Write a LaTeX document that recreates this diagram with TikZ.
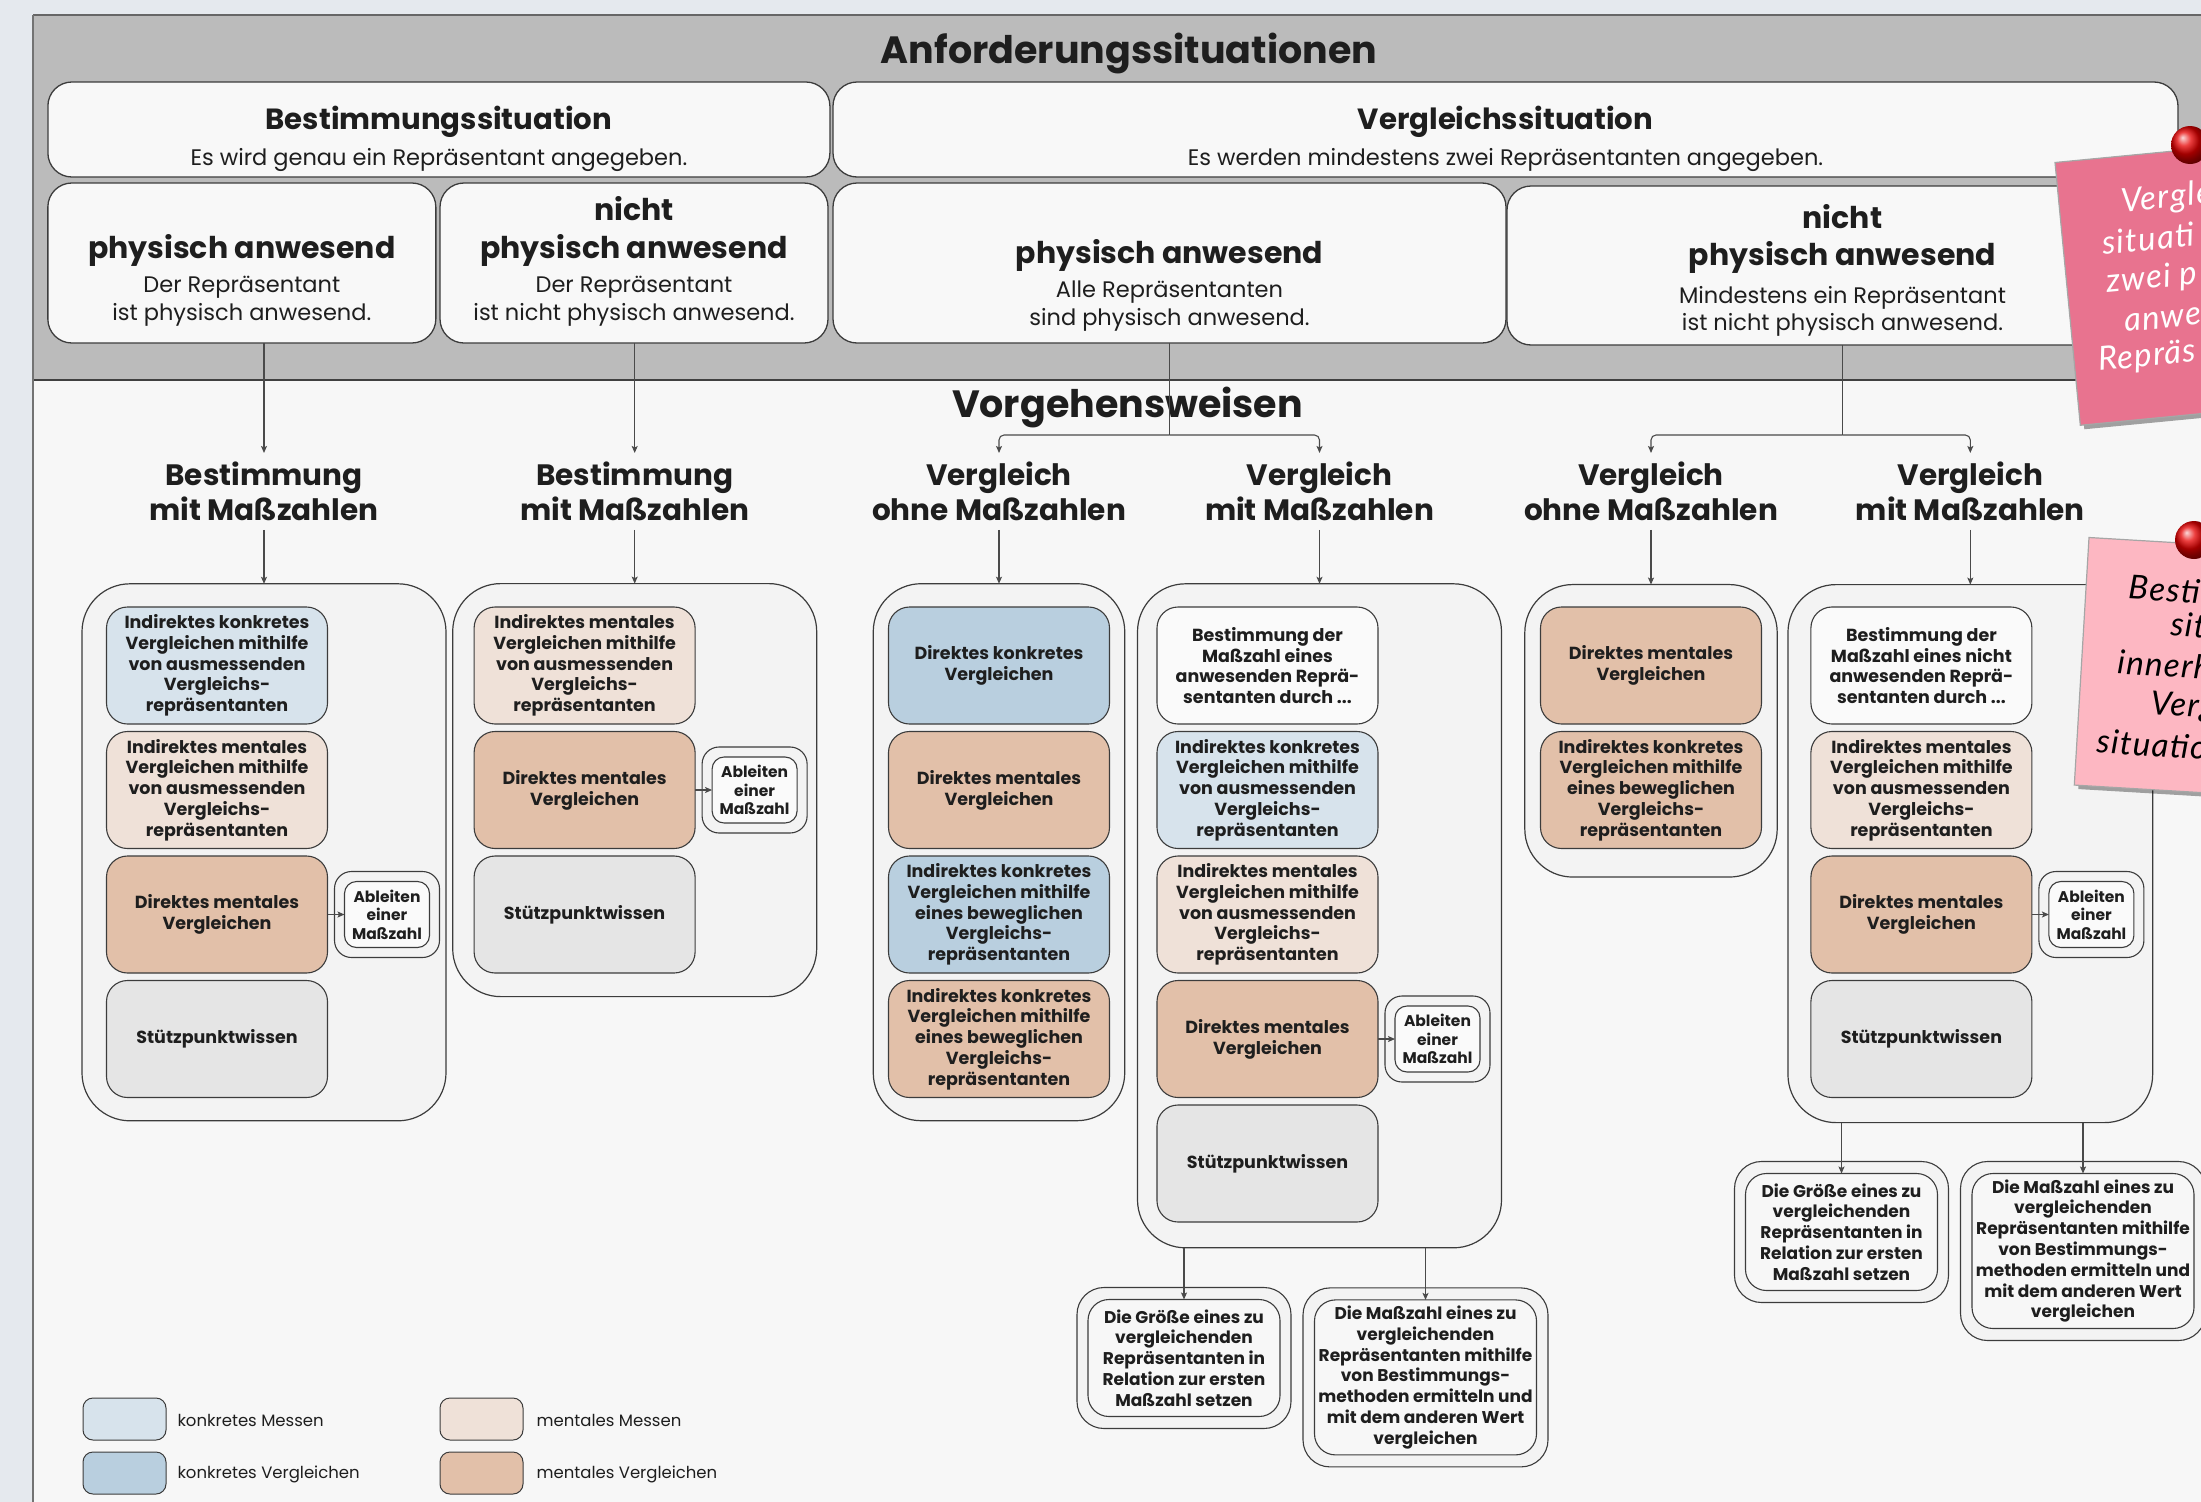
\documentclass[tikz,border=0pt]{standalone}
\usepackage{fontspec}
\setmainfont{Poppins}
\newfontfamily\dgNoteFont{Lato}[LetterSpace=4]
\usetikzlibrary{arrows.meta,shadows,calc}
\definecolor{outerbg}{HTML}{E5E9EE}
\definecolor{panelbg}{HTML}{F7F7F7}
\definecolor{bandbg}{HTML}{BBBBBB}
\definecolor{rowfill}{HTML}{F8F8F8}
\definecolor{contfill}{HTML}{F3F3F3}
\definecolor{kmcol}{HTML}{D7E3EC}
\definecolor{kvcol}{HTML}{B9CFDF}
\definecolor{mmcol}{HTML}{EFE1D8}
\definecolor{mvcol}{HTML}{E2C0A9}
\definecolor{swcol}{HTML}{E5E5E5}
\definecolor{wbcol}{HTML}{FAFAFA}
\definecolor{bordercol}{HTML}{3C3C3C}
\definecolor{linecol}{HTML}{4A4A4A}
\definecolor{notedark}{HTML}{E8738F}
\definecolor{notelight}{HTML}{FDB7C2}
\definecolor{txtcol}{HTML}{1E1E1E}
\newcommand\dgTitle{\bfseries\fontsize{38}{44}\selectfont}
\newcommand\dgRowTa{\bfseries\fontsize{29.2}{35}\selectfont}
\newcommand\dgRowT{\bfseries\fontsize{30}{36}\selectfont}
\newcommand\dgRowS{\fontsize{22.5}{27.5}\selectfont}
\newcommand\dgLab{\bfseries\fontsize{29.5}{35}\selectfont}
\newcommand\dgBox{\bfseries\fontsize{17.5}{20.8}\selectfont}
\newcommand\dgDbl{\bfseries\fontsize{17}{20.8}\selectfont}
\newcommand\dgAbl{\bfseries\fontsize{15.5}{18.6}\selectfont}
\newcommand\dgLeg{\fontsize{16.5}{20}\selectfont}
\newcommand\dgNote{\dgNoteFont\itshape\fontsize{33}{39}\selectfont}
\begin{document}
\begin{tikzpicture}[x=1pt,y=-1pt,
  every node/.style={inner sep=0pt, outer sep=0pt, text=txtcol},
  rowbox/.style 2 args={draw=bordercol, line width=1.3pt, fill=rowfill, rounded corners=24pt, minimum width=#1, minimum height=#2},
  cont/.style 2 args={draw=bordercol, line width=1.2pt, fill=contfill, rounded corners=48pt, minimum width=#1, minimum height=#2},
  ib/.style={draw=bordercol, line width=1.1pt, rounded corners=21pt, minimum width=221pt, minimum height=117pt, align=center, font=\dgBox},
  km/.style={ib, fill=kmcol},
  kv/.style={ib, fill=kvcol},
  mm/.style={ib, fill=mmcol},
  mv/.style={ib, fill=mvcol},
  sw/.style={ib, fill=swcol},
  wb/.style={ib, fill=wbcol},
  ablo/.style={draw=bordercol, line width=1.1pt, fill=contfill, rounded corners=17pt, minimum width=105pt, minimum height=86pt},
  abli/.style={draw=bordercol, line width=1.1pt, fill=wbcol, rounded corners=12pt, minimum width=85pt, minimum height=66pt, align=center, font=\dgAbl},
  dbo/.style 2 args={draw=bordercol, line width=1.1pt, fill=contfill, rounded corners=27pt, minimum width=#1, minimum height=#2},
  dbi/.style 2 args={draw=bordercol, line width=1.1pt, fill=panelbg, rounded corners=21pt, minimum width=#1, minimum height=#2, align=center, font=\dgDbl},
  conn/.style={draw=linecol, line width=1.1pt},
  arr/.style={conn, -{Stealth[length=7pt,width=6pt,inset=1.5pt]}},
  lab/.style={align=center, font=\dgLab, inner ysep=9pt, anchor=base},
  rtitlea/.style={font=\dgRowTa, anchor=base},
  rtitle/.style={font=\dgRowT, anchor=base},
  rsub/.style={font=\dgRowS, anchor=base},
  leg/.style={draw=bordercol, line width=1pt, rounded corners=10pt, minimum width=83pt, minimum height=42pt},
  legt/.style={font=\dgLeg, anchor=west},
  notebox/.style={draw=black!35, line width=1.2pt, drop shadow={shadow xshift=4pt, shadow yshift=-4pt, opacity=0.35, fill=black}},
  notetxt/.style={font=\dgNote, anchor=base west}
]
\useasboundingbox (0,0) rectangle (2201,1502);
\clip (0,0) rectangle (2201,1502);
% ---------- backgrounds ----------
\fill[outerbg] (0,0) rectangle (2201,1502);
\fill[panelbg] (33,15) rectangle (2240,1540);
\fill[bandbg] (33,15) rectangle (2240,380);
\draw[draw=black!60, line width=1.3pt] (33,15) -- (2240,15);
\draw[draw=black!75, line width=2.2pt] (33,380) -- (2240,380);
\draw[draw=black!55, line width=1.5pt] (33,15) -- (33,1540);
% ---------- titles ----------
\node[font=\dgTitle, anchor=base] (title) at (1129,63.3) {Anforderungssituationen};
\node[font=\dgTitle, anchor=base] (vtitle) at (1127.5,417.3) {Vorgehensweisen};
% ---------- row 1 ----------
\node[rowbox={782pt}{95pt}] (bsit) at (438.9,129.5) {};
\node[rtitlea] (bsitT) at (438.9,129.3) {Bestimmungssituation};
\node[rsub] (bsitS) at (438.9,165) {Es wird genau ein Repräsentant angegeben.};
\node[rowbox={1345pt}{95pt}] (vsit) at (1505.5,129.5) {};
\node[rtitlea] (vsitT) at (1505.5,129.3) {Vergleichssituation};
\node[rsub] (vsitS) at (1505.5,165) {Es werden mindestens zwei Repräsentanten angegeben.};
% ---------- row 2 ----------
\node[rowbox={388pt}{160pt}] (rA) at (241.85,263) {};
\node[rtitle] (rAT) at (241.85,258) {physisch anwesend};
\node[rsub] (rAS1) at (241.85,292.5) {Der Repräsentant};
\node[rsub] (rAS2) at (241.85,320) {ist physisch anwesend.};
\node[rowbox={388pt}{160pt}] (rB) at (634,263) {};
\node[rtitle] (rBN) at (634,220.7) {nicht};
\node[rtitle] (rBT) at (634,258) {physisch anwesend};
\node[rsub] (rBS1) at (634,292.5) {Der Repräsentant};
\node[rsub] (rBS2) at (634,320) {ist nicht physisch anwesend.};
\node[rowbox={673pt}{160pt}] (rC) at (1169.5,263) {};
\node[rtitle] (rCT) at (1169.5,263.5) {physisch anwesend};
\node[rsub] (rCS1) at (1169.5,297.7) {Alle Repräsentanten};
\node[rsub] (rCS2) at (1169.5,325) {sind physisch anwesend.};
\node[rowbox={671pt}{159pt}] (rD) at (1842.5,265.5) {};
\node[rtitle] (rDN) at (1842.5,228.3) {nicht};
\node[rtitle] (rDT) at (1842.5,265) {physisch anwesend};
\node[rsub] (rDS1) at (1842.5,303.3) {Mindestens ein Repräsentant};
\node[rsub] (rDS2) at (1842.5,330) {ist nicht physisch anwesend.};
% ---------- column labels ----------
\node[lab] (lab1) at (264,520.6) {Bestimmung\\mit Maßzahlen};
\node[lab] (lab2) at (634.7,520.6) {Bestimmung\\mit Maßzahlen};
\node[lab] (lab3) at (999,520.6) {Vergleich\\ohne Maßzahlen};
\node[lab] (lab4) at (1319.5,520.6) {Vergleich\\mit Maßzahlen};
\node[lab] (lab5) at (1651,520.6) {Vergleich\\ohne Maßzahlen};
\node[lab] (lab6) at (1970.3,520.6) {Vergleich\\mit Maßzahlen};
% ---------- connectors from situations ----------
\draw[arr] (rA.south -| lab1.north) -- (lab1.north);
\draw[arr] (rB.south -| lab2.north) -- (lab2.north);
\coordinate (brC) at (rC.south |- 0,435);
\coordinate (brD) at (rD.south |- 0,435);
\draw[conn] (rC.south) -- (brC);
\draw[arr, rounded corners=5pt] (brC) -| (lab3.north);
\draw[arr, rounded corners=5pt] (brC) -| (lab4.north);
\draw[conn] (rD.south) -- (brD);
\draw[arr, rounded corners=5pt] (brD) -| (lab5.north);
\draw[arr, rounded corners=5pt] (brD) -| (lab6.north);
% ---------- containers ----------
\node[cont={364pt}{537pt}] (c1) at (264,852.3) {};
\node[cont={364pt}{413pt}] (c2) at (634.7,790.1) {};
\node[cont={251.5pt}{537pt}] (c3) at (999,852.2) {};
\node[cont={364pt}{664pt}] (c4) at (1319.5,915.8) {};
\node[cont={252.4pt}{292.5pt}] (c5) at (1651,730.8) {};
\node[cont={364.7pt}{538pt}] (c6) at (1970.3,853.6) {};
\draw[arr] (lab1.south) -- (c1.north);
\draw[arr] (lab2.south) -- (c2.north);
\draw[arr] (lab3.south) -- (c3.north);
\draw[arr] (lab4.south) -- (c4.north);
\draw[arr] (lab5.south) -- (c5.north);
\draw[arr] (lab6.south) -- (c6.north);
% ---------- column 1 ----------
\node[km] (c1b1) at (217,665.5) {Indirektes konkretes\\Vergleichen mithilfe\\von ausmessenden\\Vergleichs-\\repräsentanten};
\node[mm] (c1b2) at (217,790) {Indirektes mentales\\Vergleichen mithilfe\\von ausmessenden\\Vergleichs-\\repräsentanten};
\node[mv] (c1b3) at (217,914.5) {Direktes mentales\\Vergleichen};
\node[sw] (c1b4) at (217,1039) {Stützpunktwissen};
\node[ablo] (c1ao) at (387,914.5) {};
\node[abli] (c1ai) at (387,914.5) {Ableiten\\einer\\Maßzahl};
\draw[arr] (c1b3.east) -- (c1ai.west);
% ---------- column 2 ----------
\node[mm] (c2b1) at (584.6,665.5) {Indirektes mentales\\Vergleichen mithilfe\\von ausmessenden\\Vergleichs-\\repräsentanten};
\node[mv] (c2b2) at (584.6,790) {Direktes mentales\\Vergleichen};
\node[sw] (c2b3) at (584.6,914.5) {Stützpunktwissen};
\node[ablo] (c2ao) at (754.6,790) {};
\node[abli] (c2ai) at (754.6,790) {Ableiten\\einer\\Maßzahl};
\draw[arr] (c2b2.east) -- (c2ai.west);
% ---------- column 3 ----------
\node[kv] (c3b1) at (999,665.5) {Direktes konkretes\\Vergleichen};
\node[mv] (c3b2) at (999,790) {Direktes mentales\\Vergleichen};
\node[kv] (c3b3) at (999,914.5) {Indirektes konkretes\\Vergleichen mithilfe\\eines beweglichen\\Vergleichs-\\repräsentanten};
\node[mv] (c3b4) at (999,1039) {Indirektes konkretes\\Vergleichen mithilfe\\eines beweglichen\\Vergleichs-\\repräsentanten};
% ---------- column 4 ----------
\node[wb] (c4b1) at (1267.5,665.5) {Bestimmung der\\Maßzahl eines\\anwesenden Reprä-\\sentanten durch ...};
\node[km] (c4b2) at (1267.5,790) {Indirektes konkretes\\Vergleichen mithilfe\\von ausmessenden\\Vergleichs-\\repräsentanten};
\node[mm] (c4b3) at (1267.5,914.5) {Indirektes mentales\\Vergleichen mithilfe\\von ausmessenden\\Vergleichs-\\repräsentanten};
\node[mv] (c4b4) at (1267.5,1039) {Direktes mentales\\Vergleichen};
\node[sw] (c4b5) at (1267.5,1163.5) {Stützpunktwissen};
\node[ablo] (c4ao) at (1437.5,1039) {};
\node[abli] (c4ai) at (1437.5,1039) {Ableiten\\einer\\Maßzahl};
\draw[arr] (c4b4.east) -- (c4ai.west);
% ---------- column 5 ----------
\node[mv] (c5b1) at (1651,665.5) {Direktes mentales\\Vergleichen};
\node[mv] (c5b2) at (1651,790) {Indirektes konkretes\\Vergleichen mithilfe\\eines beweglichen\\Vergleichs-\\repräsentanten};
% ---------- column 6 ----------
\node[wb] (c6b1) at (1921.4,665.5) {Bestimmung der\\Maßzahl eines nicht\\anwesenden Reprä-\\sentanten durch ...};
\node[mm] (c6b2) at (1921.4,790) {Indirektes mentales\\Vergleichen mithilfe\\von ausmessenden\\Vergleichs-\\repräsentanten};
\node[mv] (c6b3) at (1921.4,914.5) {Direktes mentales\\Vergleichen};
\node[sw] (c6b4) at (1921.4,1039) {Stützpunktwissen};
\node[ablo] (c6ao) at (2091.4,914.5) {};
\node[abli] (c6ai) at (2091.4,914.5) {Ableiten\\einer\\Maßzahl};
\draw[arr] (c6b3.east) -- (c6ai.west);
% ---------- bottom double boxes ----------
\node[dbo={214pt}{141pt}] (g4ao) at (1184,1358) {};
\node[dbi={192pt}{117pt}] (g4a) at (1184,1358) {Die Größe eines zu\\vergleichenden\\Repräsentanten in\\Relation zur ersten\\Maßzahl setzen};
\node[dbo={245pt}{179pt}] (g4bo) at (1425.5,1377.4) {};
\node[dbi={222pt}{155pt}] (g4b) at (1425.5,1377.4) {Die Maßzahl eines zu\\vergleichenden\\Repräsentanten mithilfe\\von Bestimmungs-\\methoden ermitteln und\\mit dem anderen Wert\\vergleichen};
\draw[arr] (c4.south -| g4a.north) -- (g4a.north);
\draw[arr] (c4.south -| g4b.north) -- (g4b.north);
\node[dbo={214pt}{141pt}] (g6ao) at (1841.5,1232) {};
\node[dbi={192pt}{117pt}] (g6a) at (1841.5,1232) {Die Größe eines zu\\vergleichenden\\Repräsentanten in\\Relation zur ersten\\Maßzahl setzen};
\node[dbo={245pt}{179pt}] (g6bo) at (2083,1251) {};
\node[dbi={222pt}{155pt}] (g6b) at (2083,1251) {Die Maßzahl eines zu\\vergleichenden\\Repräsentanten mithilfe\\von Bestimmungs-\\methoden ermitteln und\\mit dem anderen Wert\\vergleichen};
\draw[arr] (c6.south -| g6a.north) -- (g6a.north);
\draw[arr] (c6.south -| g6b.north) -- (g6b.north);
% ---------- legend ----------
\node[leg, fill=kmcol] (lg1) at (124.5,1419) {};
\node[legt] (lg1t) at (177.5,1420.7) {konkretes Messen};
\node[leg, fill=kvcol] (lg2) at (124.5,1473) {};
\node[legt] (lg2t) at (177.5,1474) {konkretes Vergleichen};
\node[leg, fill=mmcol] (lg3) at (481.5,1419) {};
\node[legt] (lg3t) at (536.6,1420.7) {mentales Messen};
\node[leg, fill=mvcol] (lg4) at (481.5,1473) {};
\node[legt] (lg4t) at (536.6,1474) {mentales Vergleichen};
% ---------- sticky notes ----------
\begin{scope}[shift={(2055,162.5)}, rotate=5.5, transform shape]
  \node[notebox, fill=notedark, anchor=north west, minimum width=300pt, minimum height=264pt] (note1) at (0,0) {};
  \node[notetxt, text=white] (n1a) at (62,55.7) {Vergle};
  \node[notetxt, text=white] (n1b) at (39,96.3) {situati};
  \node[notetxt, text=white] (n1c) at (39.3,134.4) {zwei p};
  \node[notetxt, text=white] (n1d) at (53.5,175.3) {anwe};
  \node[notetxt, text=white] (n1e) at (23.8,211.7) {Repräs};
\end{scope}
\shade[ball color=red!90!black] (2190,145) circle (19pt);
\begin{scope}[shift={(2089,537.5)}, rotate=-3.4, transform shape]
  \node[notebox, fill=notelight, anchor=north west, minimum width=300pt, minimum height=248pt] (note2) at (0,0) {};
  \node[notetxt, text=black] (n2a) at (42.5,59) {Besti};
  \node[notetxt, text=black] (n2b) at (86.7,93.5) {sit};
  \node[notetxt, text=black] (n2c) at (36,134.6) {innerh};
  \node[notetxt, text=black] (n2d) at (71.4,172.6) {Verg};
  \node[notetxt, text=black] (n2e) at (19.8,214.7) {situatio};
\end{scope}
\shade[ball color=red!90!black] (2194,540) circle (19pt);
\end{tikzpicture}
\end{document}
